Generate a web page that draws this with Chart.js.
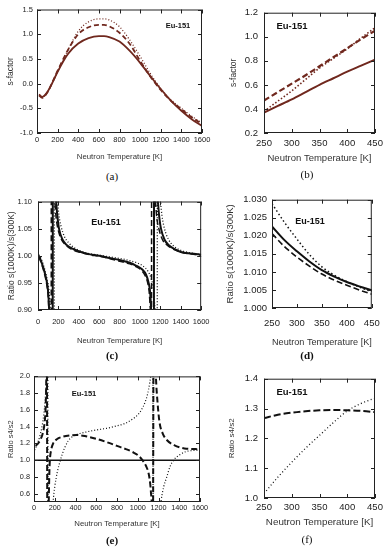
<!DOCTYPE html>
<html>
<head>
<meta charset="utf-8">
<script src="https://cdn.jsdelivr.net/npm/chart.js@4.4.1/dist/chart.umd.min.js"></script>
<style>
  body { margin: 0; background: #fff; width: 388px; height: 550px; position: relative; overflow: hidden; }
  canvas { position: absolute; }
  .lbl { position: absolute; transform: translate(-50%, -50%); white-space: nowrap; color: #111; }
  .eu { font-family: "Liberation Sans", Arial, sans-serif; font-weight: bold; }
  .pl { font-family: "Liberation Serif", "Times New Roman", serif; font-size: 11px; }
</style>
</head>
<body>
<script>
// ---- data ----
const wideTicks = [0, 200, 400, 600, 800, 1000, 1200, 1400, 1600];
const narrowTicks = [250, 300, 350, 400, 450];

// (a) s-factor, 0-1600 K
const aYTicks = [-1.0, -0.5, 0.0, 0.5, 1.0, 1.5];
const aTemp   = [20, 50, 100, 150, 200, 300, 400, 500, 600, 650, 700, 800, 900, 1000, 1100, 1200, 1300, 1400, 1500, 1600];
const aSolid  = [-0.22, -0.27, -0.17, 0.02, 0.24, 0.60, 0.81, 0.92, 0.96, 0.96, 0.94, 0.85, 0.66, 0.42, 0.15, -0.11, -0.35, -0.55, -0.72, -0.86];
const aDashed = [-0.24, -0.29, -0.18, 0.03, 0.26, 0.68, 1.00, 1.14, 1.19, 1.19, 1.16, 1.03, 0.80, 0.46, 0.14, -0.13, -0.35, -0.52, -0.68, -0.82];
const aDotted = [-0.22, -0.27, -0.18, 0.02, 0.24, 0.68, 1.06, 1.25, 1.31, 1.31, 1.29, 1.15, 0.88, 0.55, 0.20, -0.10, -0.33, -0.50, -0.66, -0.80];

// (b) s-factor, 250-450 K
const bYTicks = [0.2, 0.4, 0.6, 0.8, 1.0, 1.2];
const bTemp   = [250, 275, 300, 325, 350, 375, 400, 425, 450];
const bSolid  = [0.37, 0.425, 0.48, 0.54, 0.60, 0.655, 0.71, 0.76, 0.81];
const bDashed = [0.47, 0.54, 0.61, 0.68, 0.755, 0.83, 0.905, 0.98, 1.05];
const bDotted = [0.38, 0.465, 0.55, 0.645, 0.74, 0.82, 0.90, 0.99, 1.075];

// (c) ratio s(1000K)/s(300K), 0-1600 K
const cYTicks = [0.90, 0.95, 1.00, 1.05, 1.10];
const cSolidT = [10, 40, 70, 90, 100, 108, 115, 130, 142, 148, 160, 172, 180, 192, 206, 240, 280, 350, 420, 500, 600, 700, 800, 900, 960, 1020, 1060, 1085, 1100, 1108, 1115, 1125, 1135, 1140, 1155, 1168, 1178, 1190, 1206, 1240, 1280, 1340, 1400, 1500, 1600];
const cSolid  = [1.000, 0.985, 0.966, 0.948, 0.932, 0.905, 0.86, 0.7, 0.4, 1.7, 1.25, 1.12, 1.095, 1.07, 1.05, 1.03, 1.02, 1.012, 1.007, 1.003, 1.000, 0.996, 0.992, 0.987, 0.982, 0.975, 0.965, 0.950, 0.932, 0.905, 0.86, 0.7, 0.4, 1.7, 1.25, 1.12, 1.095, 1.07, 1.05, 1.03, 1.02, 1.012, 1.007, 1.004, 1.002];
const cDashedT = [10, 40, 70, 90, 100, 106, 112, 122, 128, 132, 145, 158, 165, 178, 195, 230, 270, 340, 420, 500, 600, 700, 800, 900, 960, 1020, 1055, 1078, 1092, 1100, 1106, 1112, 1116, 1130, 1145, 1152, 1165, 1185, 1220, 1265, 1330, 1400, 1500, 1600];
const cDashed  = [0.998, 0.982, 0.962, 0.942, 0.925, 0.90, 0.85, 0.6, 0.3, 1.7, 1.25, 1.12, 1.10, 1.07, 1.05, 1.03, 1.02, 1.011, 1.006, 1.002, 0.999, 0.995, 0.990, 0.985, 0.980, 0.972, 0.962, 0.948, 0.93, 0.905, 0.86, 0.5, 1.7, 1.25, 1.12, 1.10, 1.07, 1.05, 1.03, 1.02, 1.012, 1.007, 1.003, 1.001];
const cDottedT = [10, 40, 70, 90, 105, 115, 122, 130, 145, 158, 162, 175, 185, 192, 205, 225, 260, 300, 360, 430, 500, 600, 700, 800, 900, 970, 1030, 1080, 1110, 1130, 1142, 1150, 1160, 1168, 1172, 1185, 1195, 1202, 1215, 1240, 1280, 1330, 1400, 1500, 1600];
const cDotted  = [1.002, 0.99, 0.972, 0.956, 0.94, 0.92, 0.90, 0.86, 0.7, 0.4, 1.7, 1.25, 1.12, 1.10, 1.075, 1.055, 1.035, 1.024, 1.014, 1.008, 1.004, 1.001, 0.998, 0.995, 0.991, 0.987, 0.981, 0.971, 0.958, 0.94, 0.915, 0.88, 0.7, 0.4, 1.7, 1.25, 1.12, 1.10, 1.075, 1.05, 1.03, 1.018, 1.01, 1.005, 1.002];

// (d) ratio, 250-450 K
const dYTicks = [1.000, 1.005, 1.010, 1.015, 1.020, 1.025, 1.030];
const dTemp   = [250, 275, 300, 325, 350, 375, 400, 425, 450];
const dSolid  = [1.0226, 1.0188, 1.0157, 1.0129, 1.0105, 1.0087, 1.0072, 1.0060, 1.0049];
const dDashed = [1.0206, 1.0170, 1.0141, 1.0116, 1.0094, 1.0077, 1.0063, 1.0050, 1.0038];
const dDotted = [1.0289, 1.0237, 1.0191, 1.0148, 1.0114, 1.0091, 1.0073, 1.0058, 1.0045];

// (e) ratio s4/s2, 0-1600 K
const eYTicks = [0.6, 0.8, 1.0, 1.2, 1.4, 1.6, 1.8, 2.0];
const eSolidT = [0, 1600];
const eSolid  = [1.0, 1.0];
const eDashedT = [16, 40, 60, 80, 95, 105, 113, 119, 124, 130, 136, 142, 148, 153, 165, 185, 220, 280, 350, 410, 500, 600, 700, 800, 900, 960, 1010, 1045, 1080, 1105, 1120, 1128, 1135, 1145, 1155, 1168, 1175, 1190, 1210, 1240, 1280, 1350, 1450, 1600];
const eDashed  = [1.17, 1.20, 1.24, 1.30, 1.38, 1.48, 1.65, 2.0, 2.6, -1.0, 0.2, 0.5, 0.85, 1.0, 1.12, 1.20, 1.25, 1.28, 1.295, 1.30, 1.285, 1.255, 1.215, 1.17, 1.125, 1.09, 1.05, 1.0, 0.93, 0.84, 0.72, 0.6, 0.45, -0.5, 3.5, 2.3, 2.0, 1.7, 1.45, 1.32, 1.24, 1.18, 1.14, 1.13];
const eDottedT = [6, 30, 55, 80, 95, 105, 113, 120, 126, 132, 136, 150, 170, 184, 200, 225, 250, 275, 300, 330, 370, 420, 500, 600, 700, 800, 880, 950, 1000, 1040, 1070, 1095, 1115, 1125, 1135, 1145, 1150, 1170, 1200, 1223, 1250, 1280, 1310, 1345, 1400, 1460, 1530, 1600];
const eDotted  = [1.12, 1.19, 1.28, 1.42, 1.55, 1.68, 1.82, 2.0, 2.4, 3.5, -2.0, -0.5, 0.2, 0.5, 0.68, 0.86, 0.98, 1.08, 1.16, 1.23, 1.28, 1.31, 1.335, 1.36, 1.38, 1.41, 1.44, 1.49, 1.54, 1.61, 1.69, 1.79, 1.92, 2.02, 2.3, 3.5, -2.0, -0.3, 0.25, 0.5, 0.68, 0.8, 0.92, 1.0, 1.06, 1.10, 1.115, 1.12];

// (f) ratio s4/s2, 250-450 K
const fYTicks = [1.0, 1.1, 1.2, 1.3, 1.4];
const fTemp   = [250, 275, 300, 325, 350, 375, 400, 425, 450];
const fDashed = [1.268, 1.279, 1.286, 1.291, 1.294, 1.295, 1.294, 1.292, 1.288];
const fDotted = [1.015, 1.07, 1.12, 1.167, 1.21, 1.253, 1.292, 1.317, 1.335];

const FONT = '"Liberation Sans", Arial, sans-serif';
const RED = "#70281e";
const BLK = "#111";

// gnuplot-like frame with inward ticks on all four sides
const framePlugin = {
  id: "frame",
  afterDatasetsDraw(chart) {
    const { ctx, chartArea: a, scales } = chart;
    ctx.save();
    ctx.strokeStyle = "#222";
    ctx.lineWidth = 1;
    ctx.strokeRect(a.left + 0.5, a.top + 0.5, a.right - a.left - 1, a.bottom - a.top - 1);
    ctx.beginPath();
    scales.x.ticks.forEach((t) => {
      const p = Math.round(scales.x.getPixelForValue(t.value)) + 0.5;
      ctx.moveTo(p, a.bottom); ctx.lineTo(p, a.bottom - 4);
      ctx.moveTo(p, a.top); ctx.lineTo(p, a.top + 4);
    });
    scales.y.ticks.forEach((t) => {
      const p = Math.round(scales.y.getPixelForValue(t.value)) + 0.5;
      ctx.moveTo(a.left, p); ctx.lineTo(a.left + 4, p);
      ctx.moveTo(a.right, p); ctx.lineTo(a.right - 4, p);
    });
    ctx.stroke();
    ctx.restore();
  },
};

function line(t, v, color, w, dash) {
  return { t: t, v: v, color: color, w: w, dash: dash };
}

function makePanel(p) {
  const cl = Math.round(p.yTitleX - 0.6 * p.fY - 1);
  const ct = p.area[1] - 8;
  const cb = Math.round(p.xTitleY + 0.6 * p.fX + 2);
  const cr = p.area[2] + 14;
  const canvas = document.createElement("canvas");
  canvas.width = cr - cl;
  canvas.height = cb - ct;
  canvas.style.left = cl + "px";
  canvas.style.top = ct + "px";
  document.body.appendChild(canvas);
  const yW = p.area[0] - cl;
  const xH = cb - p.area[3];

  new Chart(canvas, {
    type: "line",
    data: {
      datasets: p.series.map((s) => ({
        data: s.t.map((t, i) => ({ x: t, y: s.v[i] })),
        borderColor: s.color,
        borderWidth: s.w,
        borderDash: s.dash || [],
        pointRadius: 0,
        fill: false,
        cubicInterpolationMode: "monotone",
      })),
    },
    options: {
      responsive: false,
      animation: false,
      devicePixelRatio: 1,
      layout: { padding: { left: 0, top: 8, right: 14, bottom: 0 } },
      plugins: { legend: { display: false }, tooltip: { enabled: false } },
      scales: {
        x: {
          type: "linear", min: p.xMin, max: p.xMax,
          grid: { display: false, drawTicks: false }, border: { display: false },
          afterBuildTicks: (s) => { s.ticks = p.xTicks.map((v) => ({ value: v })); },
          afterFit: (s) => { s.height = xH; },
          ticks: {
            padding: p.xTickY - p.area[3] - 0.6 * p.fTick,
            font: { family: FONT, size: p.fTick }, color: "#222",
            maxRotation: 0, autoSkip: false,
            callback: (v) => String(v),
          },
          title: {
            display: true, text: "Neutron Temperature [K]",
            font: { family: FONT, size: p.fX }, color: "#333",
            padding: { top: 0, bottom: 2 },
          },
        },
        y: {
          type: "linear", min: p.yMin, max: p.yMax,
          grid: { display: false, drawTicks: false }, border: { display: false },
          afterBuildTicks: (s) => { s.ticks = p.yTicks.map((v) => ({ value: v })); },
          afterFit: (s) => { s.width = yW; },
          ticks: {
            padding: p.area[0] - p.yTickRight,
            font: { family: FONT, size: p.fTick }, color: "#222",
            callback: (v) => v.toFixed(p.dec),
          },
          title: {
            display: true, text: p.yTitle,
            font: { family: FONT, size: p.fY }, color: "#333",
            padding: { top: 1, bottom: 0 },
          },
        },
      },
    },
    plugins: [framePlugin],
  });

  const eu = document.createElement("div");
  eu.className = "lbl eu";
  eu.style.left = p.eu[0] + "px";
  eu.style.top = p.eu[1] + "px";
  eu.style.fontSize = p.eu[2] + "px";
  eu.textContent = "Eu-151";
  document.body.appendChild(eu);

  const pl = document.createElement("div");
  pl.className = "lbl pl";
  pl.style.left = p.tag[0] + "px";
  pl.style.top = p.tag[1] + "px";
  pl.style.fontWeight = p.tagBold ? "bold" : "normal";
  pl.textContent = p.tagText;
  document.body.appendChild(pl);
}

const panels = [
  {
    area: [37, 9, 202, 133], yTitleX: 11, xTitleY: 157, yTickRight: 33, xTickY: 140,
    fTick: 7.5, fX: 7.8, fY: 8.5, yTitle: "s-factor",
    xMin: 0, xMax: 1600, yMin: -1, yMax: 1.5, xTicks: wideTicks, yTicks: aYTicks, dec: 1,
    series: [
      line(aTemp, aSolid, RED, 1.8),
      line(aTemp, aDashed, RED, 1.8, [5, 3]),
      line(aTemp, aDotted, RED, 1.3, [1, 2]),
    ],
    eu: [178, 25, 7.5], tag: [112, 176], tagText: "(a)",
  },
  {
    area: [264, 9, 375, 133], yTitleX: 234, xTitleY: 158, yTickRight: 258, xTickY: 143,
    fTick: 9.5, fX: 9.5, fY: 8.5, yTitle: "s-factor",
    xMin: 250, xMax: 450, yMin: 0.2, yMax: 1.2, xTicks: narrowTicks, yTicks: bYTicks, dec: 1,
    series: [
      line(bTemp, bSolid, RED, 2),
      line(bTemp, bDashed, RED, 2.2, [6, 3]),
      line(bTemp, bDotted, RED, 1.6, [1.5, 2]),
    ],
    eu: [292, 25, 9.5], tag: [307, 174], tagText: "(b)",
  },
  {
    area: [38, 199, 203, 310], yTitleX: 12, xTitleY: 341, yTickRight: 32, xTickY: 322,
    fTick: 7.5, fX: 7.8, fY: 8.5, yTitle: "Ratio s(1000K)/s(300K)",
    xMin: 0, xMax: 1600, yMin: 0.9, yMax: 1.1, xTicks: wideTicks, yTicks: cYTicks, dec: 2,
    series: [
      line(cSolidT, cSolid, BLK, 2),
      line(cDashedT, cDashed, BLK, 1.5, [6, 3]),
      line(cDottedT, cDotted, BLK, 1.3, [1, 2]),
    ],
    eu: [106, 222, 9], tag: [112, 355], tagText: "(c)", tagBold: true,
  },
  {
    area: [272, 197, 375, 308], yTitleX: 231, xTitleY: 342, yTickRight: 267, xTickY: 323,
    fTick: 9.5, fX: 9.3, fY: 9.5, yTitle: "Ratio s(1000K)/s(300K)",
    xMin: 250, xMax: 450, yMin: 1.0, yMax: 1.03, xTicks: narrowTicks, yTicks: dYTicks, dec: 3,
    series: [
      line(dTemp, dSolid, BLK, 2),
      line(dTemp, dDashed, BLK, 1.6, [6, 3]),
      line(dTemp, dDotted, BLK, 1.5, [1.5, 2.5]),
    ],
    eu: [310, 221, 9], tag: [307, 355], tagText: "(d)", tagBold: true,
  },
  {
    area: [34, 376, 200, 502], yTitleX: 10, xTitleY: 524, yTickRight: 30, xTickY: 508,
    fTick: 7.3, fX: 7.8, fY: 7.5, yTitle: "Ratio s4/s2",
    xMin: 0, xMax: 1600, yMin: 0.5, yMax: 2.0, xTicks: wideTicks, yTicks: eYTicks, dec: 1,
    series: [
      line(eSolidT, eSolid, BLK, 1.5),
      line(eDashedT, eDashed, BLK, 2, [6, 3]),
      line(eDottedT, eDotted, BLK, 1.2, [1, 2]),
    ],
    eu: [84, 393, 7.5], tag: [112, 540], tagText: "(e)", tagBold: true,
  },
  {
    area: [264, 375, 375, 498], yTitleX: 232, xTitleY: 522, yTickRight: 258, xTickY: 507,
    fTick: 9.5, fX: 9.8, fY: 8, yTitle: "Ratio s4/s2",
    xMin: 250, xMax: 450, yMin: 1.0, yMax: 1.4, xTicks: narrowTicks, yTicks: fYTicks, dec: 1,
    series: [
      line(fTemp, fDashed, BLK, 2, [7, 3]),
      line(fTemp, fDotted, BLK, 1.3, [1, 2.5]),
    ],
    eu: [292, 391, 9.5], tag: [307, 539], tagText: "(f)",
  },
];

panels.forEach(makePanel);
</script>
</body>
</html>
